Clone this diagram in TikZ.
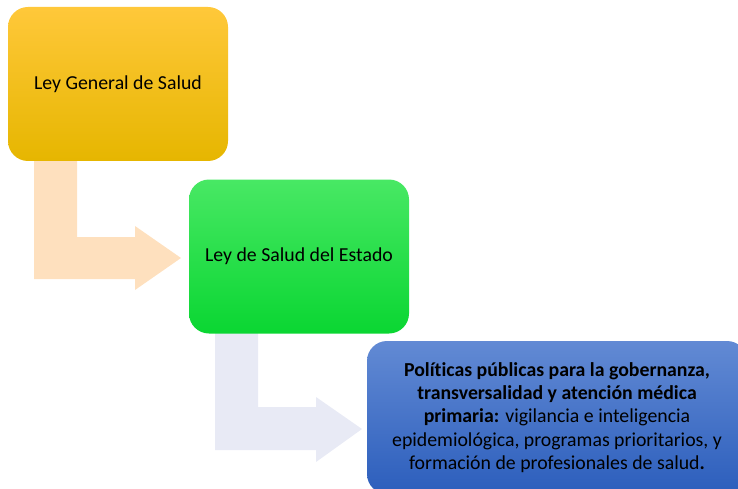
\documentclass[tikz,border=0pt]{standalone}
\usepackage{fontspec}
\setmainfont[Ligatures={NoCommon}]{Carlito}
\definecolor{yTop}{RGB}{255,200,58}
\definecolor{yMid}{RGB}{250,196,0}
\definecolor{yBot}{RGB}{230,182,0}
\definecolor{gTop}{RGB}{72,232,100}
\definecolor{gMid}{RGB}{24,226,64}
\definecolor{gBot}{RGB}{10,214,50}
\definecolor{bTop}{RGB}{98,138,212}
\definecolor{bMid}{RGB}{66,112,200}
\definecolor{bBot}{RGB}{44,94,188}
\definecolor{peach}{RGB}{254,224,190}
\definecolor{lav}{RGB}{232,234,245}
\tikzset{
  box/.style={rounded corners=20pt, minimum width=220pt, minimum height=154pt,
    inner sep=0pt, align=center, font=\fontsize{19.8}{23.3}\selectfont, text=black}
}
\begin{document}
\begin{tikzpicture}[x=1pt,y=-1pt]
\useasboundingbox (0,0) rectangle (738,489);
% block arrows (behind boxes)
\fill[peach] (34,150) -- (77,150) -- (77,237) -- (135,237) -- (135,226) -- (181,258)
  -- (135,290) -- (135,279) -- (34,279) -- cycle;
\fill[lav] (215,320) -- (258,320) -- (258,407) -- (316,407) -- (316,397) -- (362,429)
  -- (316,462) -- (316,450) -- (215,450) -- cycle;
% boxes
\node[box, top color=yTop, middle color=yMid, bottom color=yBot] (ley1) at (118,84) {Ley General de Salud};
\node[box, top color=gTop, middle color=gMid, bottom color=gBot] (ley2) at (299,256.5) {Ley de Salud del Estado};
\node[box, minimum width=380pt, minimum height=153pt, top color=bTop, middle color=bMid, bottom color=bBot] (pol) at (557,417.5)
  {\textbf{Polít\kern0pt icas públicas para la gobernanza,}\\
   \textbf{transversalidad y atención médica}\\
   \textbf{primaria:} vigilancia e inteligencia\\
   epidemiológica, programas prioritarios, y\\
   formación de profesionales de salud\textbf{.}};
\end{tikzpicture}
\end{document}
